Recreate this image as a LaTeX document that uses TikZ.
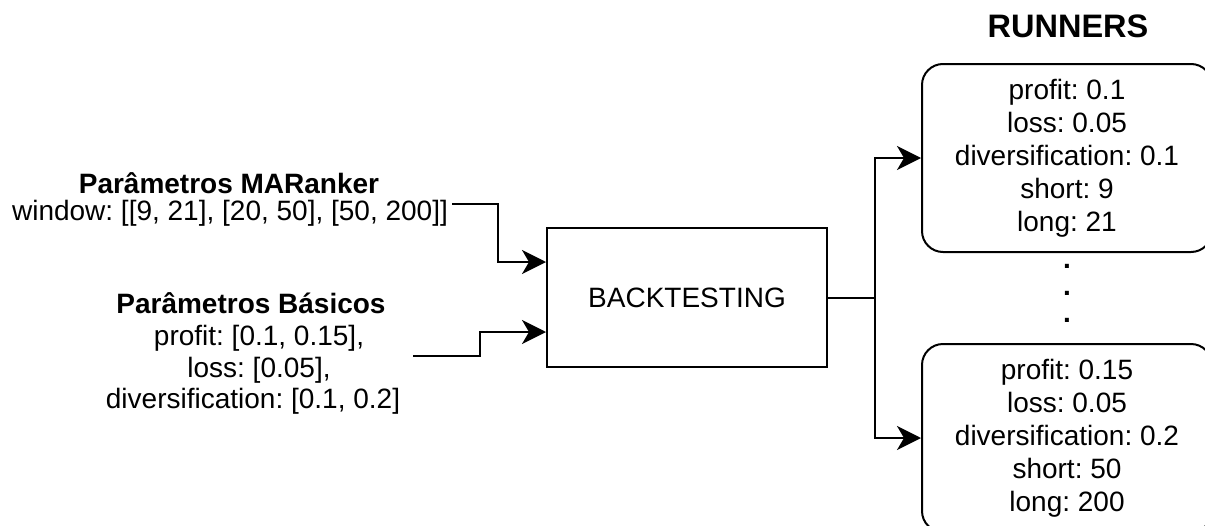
\documentclass[tikz,border=0pt]{standalone}
\usepackage{fontspec}
\setmainfont{Liberation Sans}
\usetikzlibrary{arrows.meta}
\begin{document}
\frenchspacing
\begin{tikzpicture}[x=1pt,y=-1pt,
  txt/.style={font=\fontsize{28}{33}\selectfont\frenchspacing, inner sep=0pt, anchor=base},
  boldtxt/.style={font=\fontsize{28}{33}\selectfont\bfseries\frenchspacing, inner sep=0pt, anchor=base},
  line/.style={line width=2pt},
  conn/.style={line width=2pt, -{Stealth[length=24pt,width=24pt,inset=7pt]}},
  btbox/.style={draw, line width=2pt, minimum width=280pt, minimum height=139pt, font=\fontsize{28}{33}\selectfont},
  runbox/.style={draw, line width=2pt, rounded corners=21pt, minimum width=290pt, minimum height=188pt, align=center, font=\fontsize{28}{33}\selectfont\frenchspacing}
]
\useasboundingbox (0,0) rectangle (1205,525);
\clip (0,0) rectangle (1205,525);

% left texts
\node[boldtxt] (t1) at (229,193) {Parâmetros MARanker};
\node[txt] (t2) at (230,220) {window: [[9, 21], [20, 50], [50, 200]]};
\node[boldtxt] (t3) at (251,313) {Parâmetros Básicos};
\node[txt] (t4) at (259,345) {profit: [0.1, 0.15],};
\node[txt] (t5) at (259,377) {loss: [0.05],};
\node[txt] (t6) at (253,408) {diversification: [0.1, 0.2]};

% main box
\node[btbox] (bt) at (687,297.5) {BACKTESTING};

% runners
\node[font=\fontsize{32.5}{38}\selectfont\bfseries, inner sep=0pt, anchor=base] (title) at (1068,37) {RUNNERS};
\node[runbox] (r1) at (1067,158) {profit: 0.1\\loss: 0.05\\diversification: 0.1\\short: 9\\long: 21};
\node[runbox] (r2) at (1067,438) {profit: 0.15\\loss: 0.05\\diversification: 0.2\\short: 50\\long: 200};

\node[boldtxt] (d1) at (1067,268) {.};
\node[boldtxt] (d2) at (1067,295) {.};
\node[boldtxt] (d3) at (1067,322) {.};

% connectors
\coordinate (in1) at (452,204);
\coordinate (in2) at (413,356);
\draw[conn] (in1) -| ([xshift=-48pt,yshift=35.5pt]bt.west) -- ([yshift=35.5pt]bt.west);
\draw[conn] (in2) -| ([xshift=-66pt,yshift=-34.5pt]bt.west) -- ([yshift=-34.5pt]bt.west);

\draw[line] (bt.east) -- ++(47,0) coordinate (j);
\draw[conn] (j) |- (r1.west);
\draw[conn] (j) |- (r2.west);
\end{tikzpicture}
\end{document}
